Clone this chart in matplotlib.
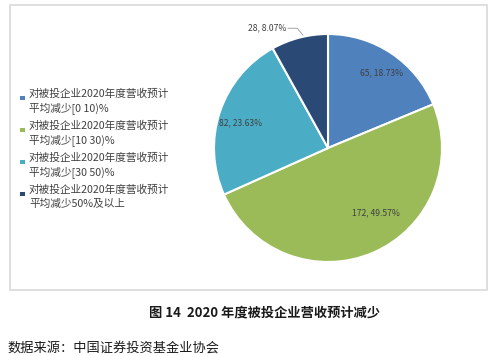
import matplotlib.pyplot as plt
from matplotlib.patches import Rectangle

plt.rcParams['font.family'] = ['Noto Sans CJK SC', 'DejaVu Sans']

# data
categories = ['对被投企业2020年度营收预计\n平均减少[0 10)%',
              '对被投企业2020年度营收预计\n平均减少[10 30)%',
              '对被投企业2020年度营收预计\n平均减少[30 50)%',
              '对被投企业2020年度营收预计\n平均减少50%及以上']
counts = [65, 172, 82, 28]
shares = [18.73, 49.57, 23.63, 8.07]
colors = ['#4F81BD', '#9BBB59', '#4BACC6', '#2A4A75']

W, H = 499, 356
fig = plt.figure(figsize=(W / 100, H / 100), dpi=100)

# outer chart frame
fig.patches.append(Rectangle((10 / W, 1 - 290 / H), 477 / W, 285 / H,
                             transform=fig.transFigure, fill=False,
                             edgecolor='#d9d9d9', linewidth=1.2))

# pie axes: centre (328,148) px, radius 114 px
cx, cy, r = 328, 148, 114
ax = fig.add_axes([(cx - r) / W, 1 - (cy + r) / H, 2 * r / W, 2 * r / H])
wedges, _ = ax.pie(counts, colors=colors, startangle=90, counterclock=False,
                   wedgeprops=dict(edgecolor='white', linewidth=1.5))
ax.set_xlim(-1, 1)
ax.set_ylim(-1, 1)
ax.set_aspect('equal')

labels = ['%d, %.2f%%' % (c, s) for c, s in zip(counts, shares)]
# label positions in axes-data units (radius = 1)
lab_pos = [(0.47, 0.66), (0.42, -0.57), (-0.77, 0.22), (-0.53, 1.05)]
for (x, y), t in zip(lab_pos, labels):
    ax.text(x, y, t, ha='center', va='center', fontsize=6.2, color='#404040',
            clip_on=False)
# leader line for the small slice
ax.plot([-0.35, -0.27, -0.22], [1.05, 1.05, 0.99], color='#a6a6a6', lw=0.7,
        clip_on=False)

# legend, drawn by hand so the marker sits on the first text line
for i, (lab, col) in enumerate(zip(categories, colors)):
    y = 98 + 32 * i
    fig.patches.append(Rectangle((20 / W, 1 - (y + 2) / H), 4.5 / W, 4 / H,
                                 transform=fig.transFigure, facecolor=col,
                                 edgecolor='none'))
    fig.text(29 / W, 1 - (y - 9) / H, lab, ha='left', va='top', fontsize=7.7,
             color='#404040', linespacing=1.45)

fig.text(265 / W, 1 - 312 / H, '图 14  2020 年度被投企业营收预计减少',
         ha='center', va='center', fontsize=9.5, fontweight='bold',
         color='#1a1a1a')
fig.text(7 / W, 1 - 348 / H, '数据来源：中国证券投资基金业协会',
         ha='left', va='center', fontsize=9.5, color='#1a1a1a')

fig.savefig('out.png', dpi=100)
